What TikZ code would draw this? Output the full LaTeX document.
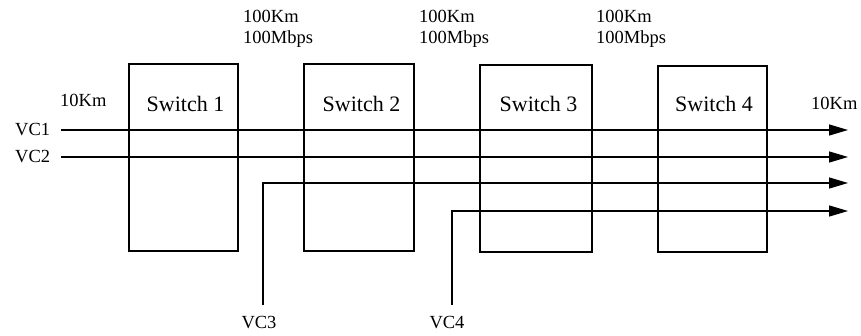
\documentclass[tikz,border=0pt]{standalone}
\usepackage{fontspec}
\setmainfont{Liberation Serif}
\usetikzlibrary{arrows.meta}
\begin{document}
\begin{tikzpicture}[x=1pt,y=-1pt,
  switchbox/.style={draw,line width=1.3pt,inner sep=0pt},
  swlabel/.style={inner sep=0pt,font=\fontsize{22}{26}\selectfont},
  lbl/.style={inner sep=0pt,font=\fontsize{18.5}{22}\selectfont},
  linkinfo/.style={inner sep=0pt,align=left,anchor=north west,font=\fontsize{18.5}{21.5}\selectfont},
  vcline/.style={line width=1.3pt},
  vcarrow/.style={line width=1.3pt,-{Triangle[length=19pt,width=11pt]}}]
\useasboundingbox (0,0) rectangle (861,336);
% switches
\node[switchbox,minimum width=109pt,minimum height=187pt] (s1) at (183.5,157.5) {};
\node[switchbox,minimum width=110pt,minimum height=187pt] (s2) at (359,157.5) {};
\node[switchbox,minimum width=112pt,minimum height=187pt] (s3) at (536,158.5) {};
\node[switchbox,minimum width=109pt,minimum height=186pt] (s4) at (712.5,159) {};
\node[swlabel] (l1) at (185.5,104) {Switch 1};
\node[swlabel] (l2) at (361.5,104) {Switch 2};
\node[swlabel] (l3) at (538.5,104) {Switch 3};
\node[swlabel] (l4) at (714,104) {Switch 4};
% link labels
\node[linkinfo] (k1) at (243,10) {100Km\\100Mbps};
\node[linkinfo] (k2) at (419,10) {100Km\\100Mbps};
\node[linkinfo] (k3) at (596,10) {100Km\\100Mbps};
\node[lbl,anchor=west] (k0) at (60,100) {10Km};
\node[lbl,anchor=west] (k5) at (811,103) {10Km};
% VC labels
\node[lbl,anchor=west] (vc1) at (15,130) {VC1};
\node[lbl,anchor=west] (vc2) at (15,157) {VC2};
\node[lbl] (vc3) at (259,323) {VC3};
\node[lbl] (vc4) at (447,323) {VC4};
% endpoints
\coordinate (a1) at (61,130);
\coordinate (b1) at (848,130);
\coordinate (a2) at (61,157);
\coordinate (b2) at (848,157);
\coordinate (a3) at (263,305);
\coordinate (m3) at (263,183);
\coordinate (b3) at (848,183);
\coordinate (a4) at (452,305);
\coordinate (m4) at (452,211);
\coordinate (b4) at (848,211);
\draw[vcarrow] (a1) -- (b1);
\draw[vcarrow] (a2) -- (b2);
\draw[vcarrow] (a3) -- (m3) -- (b3);
\draw[vcarrow] (a4) -- (m4) -- (b4);
\end{tikzpicture}
\end{document}
